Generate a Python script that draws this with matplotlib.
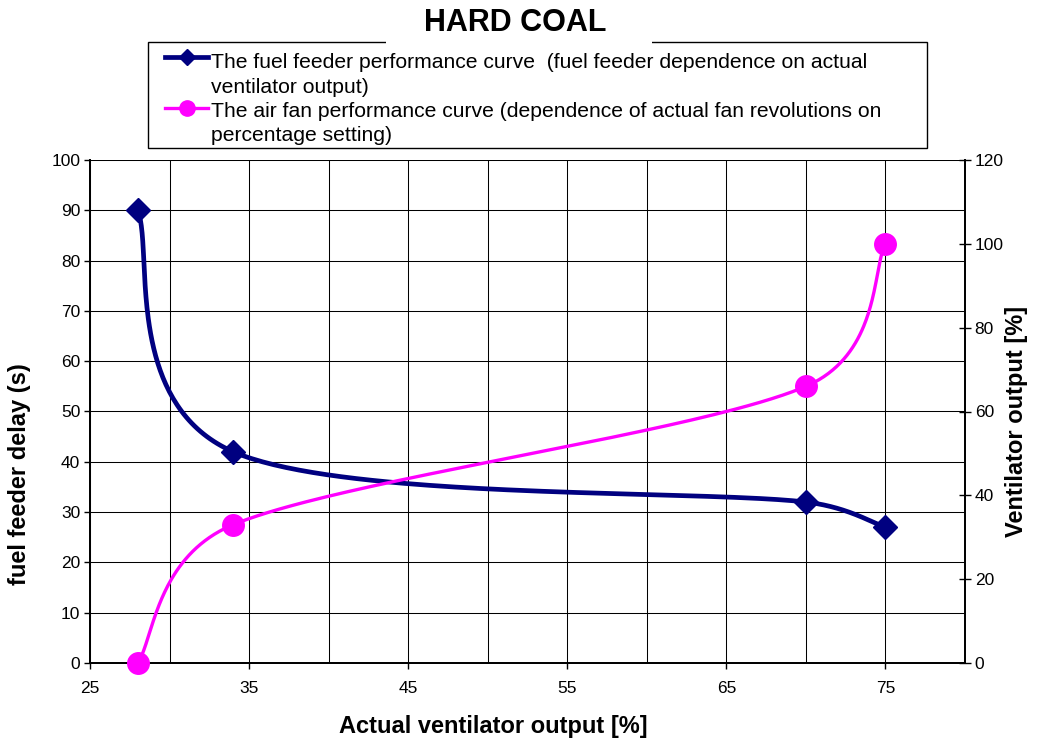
import numpy as np
import matplotlib.pyplot as plt
from matplotlib.ticker import FixedLocator, MultipleLocator
from matplotlib.lines import Line2D
from matplotlib.patches import Rectangle

plt.rcParams['font.family'] = ['Liberation Sans', 'DejaVu Sans']

# data
output_pct = [28, 34, 70, 75]
feeder_delay = [90, 42, 32, 27]          # left axis, seconds
fan_output = [0, 33, 66, 100]            # right axis, %

x_ticks = [25, 35, 45, 55, 65, 75]
left_ticks = list(range(0, 101, 10))
right_ticks = list(range(0, 121, 20))

title = "HARD COAL"
label_feeder = ["The fuel feeder performance curve  (fuel feeder dependence on actual",
                "ventilator output)"]
label_fan = ["The air fan performance curve (dependence of actual fan revolutions on",
             "percentage setting)"]

NAVY = '#000080'
MAGENTA = '#FF00FF'
W, H = 1038, 740


def excel_smooth(pts, n=80):
    # Bezier smoothing like Excel's "smoothed line", done in pixel space
    pts = np.asarray(pts, float)
    t = np.linspace(0, 1, n)[:, None]
    out = []
    for i in range(len(pts) - 1):
        p1, p2 = pts[i], pts[i + 1]
        p0 = pts[i - 1] if i > 0 else p1
        p3 = pts[i + 2] if i + 2 < len(pts) else p2
        d02 = np.hypot(*(p2 - p0))
        d12 = np.hypot(*(p2 - p1))
        d13 = np.hypot(*(p3 - p1))
        f1 = 1 / 6 if d02 / 6 < d12 / 2 else d12 / d02 / 2
        f2 = 1 / 6 if d13 / 6 < d12 / 2 else d12 / d13 / 2
        c1 = p1 + (p2 - p0) * f1
        c2 = p2 - (p3 - p1) * f2
        seg = ((1 - t) ** 3) * p1 + 3 * ((1 - t) ** 2) * t * c1 + 3 * (1 - t) * t ** 2 * c2 + t ** 3 * p2
        out.append(seg if i == 0 else seg[1:])
    return np.vstack(out)


def smooth_in(ax, xs, ys):
    disp = ax.transData.transform(np.column_stack([xs, ys]))
    curve = excel_smooth(disp)
    return ax.transData.inverted().transform(curve)


fig = plt.figure(figsize=(W / 100, H / 100), dpi=100)
ax = fig.add_axes([90 / W, 1 - 663 / H, 875 / W, 503 / H])
ax2 = ax.twinx()

ax.set_xlim(25, 80)
ax.set_ylim(0, 100)
ax2.set_ylim(0, 120)

ax.xaxis.set_major_locator(FixedLocator(x_ticks))
ax.xaxis.set_minor_locator(MultipleLocator(5))
ax.yaxis.set_major_locator(FixedLocator(left_ticks))
ax2.yaxis.set_major_locator(FixedLocator(right_ticks))

ax.grid(True, which='both', axis='x', color='black', lw=0.75)
ax.grid(True, which='major', axis='y', color='black', lw=0.75)
ax.set_axisbelow(True)

ax.tick_params(axis='x', which='major', direction='out', length=4, width=1, pad=9, labelsize=12.5)
ax.tick_params(axis='x', which='minor', length=0)
ax.tick_params(axis='y', direction='out', length=4, width=1, pad=3, labelsize=12.5)
ax2.tick_params(axis='y', direction='inout', length=8, width=1, pad=3, labelsize=12.5)

for a in (ax, ax2):
    a.spines['top'].set_visible(False)
    for s in ('left', 'right', 'bottom'):
        a.spines[s].set_linewidth(1.3)

# fuel feeder curve (left axis)
c = smooth_in(ax, output_pct, feeder_delay)
ax.plot(c[:, 0], c[:, 1], color=NAVY, lw=3.4, solid_capstyle='round', zorder=3)
ax.plot(output_pct, feeder_delay, 'D', color=NAVY, ms=12, zorder=4, clip_on=False)

# air fan curve (right axis)
c = smooth_in(ax2, output_pct, fan_output)
ax2.plot(c[:, 0], c[:, 1], color=MAGENTA, lw=2.4, solid_capstyle='round', zorder=3)
ax2.plot(output_pct, fan_output, 'o', color=MAGENTA, ms=15.5, zorder=4, clip_on=False)

# axis labels
fig.text(493 / W, 1 - 727 / H, "Actual ventilator output [%]", ha='center', va='center',
         fontsize=17, fontweight='bold')
fig.text(20 / W, 1 - 474 / H, "fuel feeder delay (s)", ha='center', va='center',
         rotation=90, fontsize=17, fontweight='bold')
fig.text(1016 / W, 1 - 421 / H, "Ventilator output [%]", ha='center', va='center',
         rotation=90, fontsize=17, fontweight='bold')

# legend box
fig.patches.append(Rectangle((148 / W, 1 - 148 / H), (927 - 148) / W, (148 - 42) / H,
                             transform=fig.transFigure, fill=False, ec='black', lw=1))
fig.lines.append(Line2D([165 / W, 208 / W], [1 - 57 / H] * 2, transform=fig.transFigure,
                        color=NAVY, lw=3.4))
fig.lines.append(Line2D([187 / W], [1 - 57 / H], transform=fig.transFigure, marker='D',
                        color=NAVY, ms=8))
fig.lines.append(Line2D([165 / W, 208 / W], [1 - 108 / H] * 2, transform=fig.transFigure,
                        color=MAGENTA, lw=2.4))
fig.lines.append(Line2D([187 / W], [1 - 108 / H], transform=fig.transFigure, marker='o',
                        color=MAGENTA, ms=11))
for i, txt in enumerate(label_feeder + label_fan):
    fig.text(211 / W, 1 - (63 + 24.3 * i) / H, txt, ha='left', va='center', fontsize=15.2)

# title sits over the legend's top border
fig.patches.append(Rectangle((386 / W, 1 - 44 / H), (652 - 386) / W, 44 / H,
                             transform=fig.transFigure, fc='white', ec='none', zorder=5))
fig.text(515 / W, 1 - 23 / H, title, ha='center', va='center', fontsize=22,
         fontweight='bold', zorder=6)

fig.savefig('out.png', dpi=100)
